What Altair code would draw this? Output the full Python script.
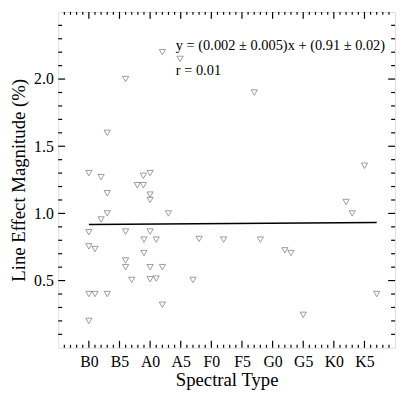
import altair as alt
import pandas as pd

# Spectral type numeric: B0=0, B5=5, A0=10, A5=15, F0=20, F5=25, G0=30, G5=35, K0=40, K5=45
spec_x = [12, 14.9, 6, 3, 0, 2, 3, 8.9, 10, 7.9, 8.9, 10, 10, 3, 2, 13, 0, 6, 10, 9, 11,
          18, 22, 0, 1, 9, 6, 6, 10, 12, 7, 10, 11, 17, 0, 1, 3, 12, 0, 27, 45, 42, 43,
          28, 32, 33, 35, 47]
effect = [2.20, 2.15, 2.00, 1.60, 1.30, 1.27, 1.15, 1.28, 1.30, 1.21, 1.21, 1.14, 1.10,
          1.00, 0.955, 1.00, 0.86, 0.865, 0.865, 0.805, 0.805, 0.81, 0.805, 0.755, 0.735,
          0.705, 0.65, 0.60, 0.60, 0.60, 0.505, 0.51, 0.515, 0.505, 0.40, 0.40, 0.40,
          0.32, 0.20, 1.90, 1.355, 1.085, 1.00, 0.805, 0.725, 0.705, 0.245, 0.40]

fit_x = [0, 47]
fit_y = [0.917, 0.932]

x_major = [0, 5, 10, 15, 20, 25, 30, 35, 40, 45]
x_labels = ["B0", "B5", "A0", "A5", "F0", "F5", "G0", "G5", "K0", "K5"]
x_minor = [v for v in range(-4, 50) if v % 5 != 0]
y_major = [0.5, 1.0, 1.5, 2.0]
y_minor = [0.1, 0.2, 0.3, 0.4, 0.6, 0.7, 0.8, 0.9, 1.1, 1.2, 1.3, 1.4, 1.6, 1.7, 1.8,
           1.9, 2.1, 2.2, 2.3, 2.4]

ann_x = [14.2, 14.2]
ann_y = [2.217, 2.027]
ann_text = ["y = (0.002 \u00b1 0.005)x + (0.91 \u00b1 0.02)", "r = 0.01"]

W, H = 342, 341
FONT = "Liberation Serif"

label_expr = "{" + ",".join(f"'{v}':'{l}'" for v, l in zip(x_major, x_labels)) + "}[datum.value]"

xs = alt.Scale(domain=[-5, 50], nice=False, zero=False)
ys = alt.Scale(domain=[0, 2.5], nice=False, zero=False)

x_axis = alt.Axis(values=x_major, labelExpr=label_expr, ticks=False, domain=False,
                  grid=False, labelPadding=6, labelFontSize=16, titleFontSize=19,
                  labelOverlap=False, labelFlush=False,
                  labelFont=FONT, titleFont=FONT, titleFontWeight="normal",
                  labelColor="black", titleColor="black", titlePadding=1)
y_axis = alt.Axis(values=y_major, format=".1f", ticks=False, domain=False,
                  grid=False, labelPadding=5, labelFontSize=16, titleFontSize=19,
                  labelOverlap=False, labelFlush=False,
                  labelFont=FONT, titleFont=FONT, titleFontWeight="normal",
                  labelColor="black", titleColor="black", titlePadding=5)


def X(field="x"):
    return alt.X(f"{field}:Q", scale=xs, title="Spectral Type", axis=x_axis)


def Y(field="y"):
    return alt.Y(f"{field}:Q", scale=ys, title="Line Effect Magnitude (%)", axis=y_axis)


pts = pd.DataFrame({"x": spec_x, "y": effect})
base = alt.Chart(pts).mark_point(shape="triangle-down", filled=False, size=40,
                                 stroke="#505050", strokeWidth=0.8).encode(x=X(), y=Y())

fit = alt.Chart(pd.DataFrame({"x": fit_x, "y": fit_y})).mark_line(
    color="black", strokeWidth=1.5).encode(x=X(), y=Y())

ann = alt.Chart(pd.DataFrame({"x": ann_x, "y": ann_y, "t": ann_text})).mark_text(
    align="left", baseline="alphabetic", font=FONT, fontSize=14.6, color="black").encode(
    x=X(), y=Y(), text="t:N")


def xticks(vals, length):
    df = pd.DataFrame({"x": vals})
    bot = alt.Chart(df).mark_rule(color="black", strokeWidth=1.2).encode(
        x=X(), y=alt.value(H), y2=alt.value(H - length))
    top = alt.Chart(df).mark_rule(color="black", strokeWidth=1.2).encode(
        x=X(), y=alt.value(0), y2=alt.value(length))
    return [bot, top]


def yticks(vals, length):
    df = pd.DataFrame({"y": vals})
    left = alt.Chart(df).mark_rule(color="black", strokeWidth=1.2).encode(
        y=Y(), x=alt.value(0), x2=alt.value(length))
    right = alt.Chart(df).mark_rule(color="black", strokeWidth=1.2).encode(
        y=Y(), x=alt.value(W), x2=alt.value(W - length))
    return [left, right]


layers = [base, fit, ann] + xticks(x_major, 7) + xticks(x_minor, 3) + \
    yticks(y_major, 7) + yticks(y_minor, 4)

chart = alt.layer(*layers).properties(
    width=W, height=H,
    autosize=alt.AutoSizeParams(type="none"),
    padding={"left": 51, "top": 1, "right": 6, "bottom": 45},
).configure_view(stroke="black", strokeWidth=2).configure(background="white")

chart.save("out.html", embed_options={"renderer": "svg", "actions": False})
